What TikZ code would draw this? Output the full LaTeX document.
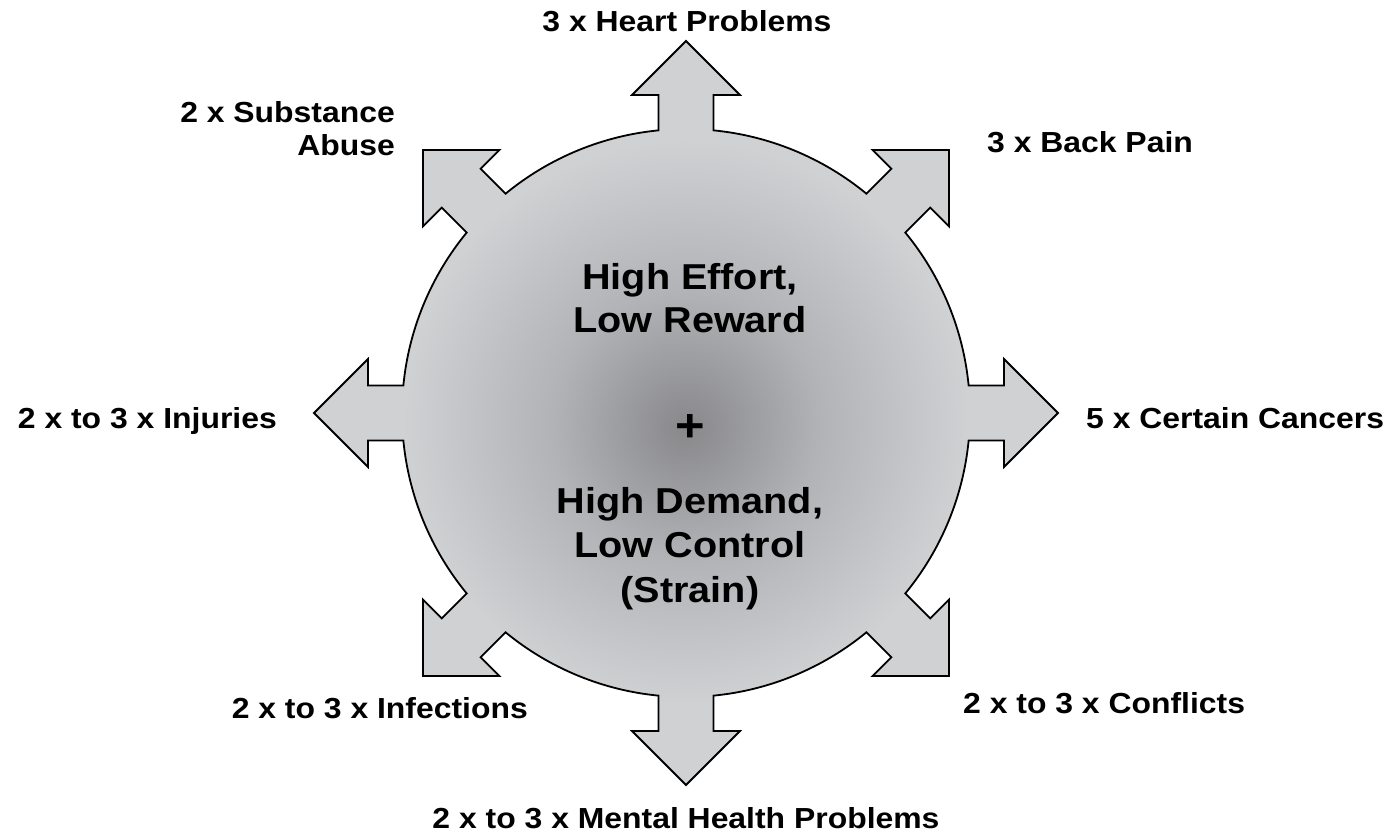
\documentclass[tikz,border=0pt]{standalone}
\usepackage{fontspec}
\newfontfamily\labfont{Liberation Sans}[FakeStretch=1.1]
\definecolor{cin}{RGB}{136,136,139}
\definecolor{cmid}{RGB}{178,179,182}
\definecolor{cout}{RGB}{208,209,211}
\pgfdeclareradialshading{disc}{\pgfpoint{0bp}{-1bp}}{color(0bp)=(cin); color(9bp)=(cmid); color(19bp)=(cout); color(50bp)=(cout)}
\tikzset{
  lab/.style={inner sep=0pt, font=\labfont\bfseries\fontsize{29}{35}\selectfont},
  mid/.style={inner sep=0pt, font=\labfont\bfseries\fontsize{36}{43}\selectfont},
  outline/.style={line width=1.8pt, line join=miter, draw=black, shading=disc}
}
\begin{document}
\begin{tikzpicture}[x=1pt,y=1pt]
\useasboundingbox (-686,-420) rectangle (711,413);
\shadedraw[outline] (-5.556:284pt)
  \foreach \a in {0,45,...,315} {
    -- ({\a-5.556}:284pt) -- ({\a-4.943}:319.19pt) -- ({\a-9.638}:322.55pt)
    -- (\a:372pt) -- ({\a+9.638}:322.55pt) -- ({\a+4.943}:319.19pt)
    -- ({\a+5.556}:284pt) arc[start angle={\a+5.556}, end angle={\a+39.444}, radius=284pt]
  } -- cycle;
% outer labels
\node[lab, anchor=base] (heart) at (1,381) {3 x Heart Problems};
\node[lab, anchor=base west] (back) at (301,260) {3 x Back Pain};
\node[lab, anchor=base west] (cancer) at (400,-15) {5 x Certain Cancers};
\node[lab, anchor=base east] (injur) at (-409,-15) {2 x to 3 x Injuries};
\node[lab, anchor=base east] (subst1) at (-291,290) {2 x Substance};
\node[lab, anchor=base east] (subst2) at (-291,257) {Abuse};
\node[lab, anchor=base east] (infect) at (-158,-305) {2 x to 3 x Infections};
\node[lab, anchor=base west] (confl) at (277,-300) {2 x to 3 x Conflicts};
\node[lab, anchor=base] (mental) at (0,-415) {2 x to 3 x Mental Health Problems};
% centre text
\node[mid, anchor=base] (eff1) at (4,124) {High Effort,};
\node[mid, anchor=base] (eff2) at (4,81) {Low Reward};
\node[inner sep=0pt, font=\labfont\bfseries\fontsize{46}{50}\selectfont] (plus) at (4,-15) {+};
\node[mid, anchor=base] (dem1) at (4,-100) {High Demand,};
\node[mid, anchor=base] (dem2) at (4,-144) {Low Control};
\node[mid, anchor=base] (dem3) at (4,-189) {(Strain)};
\end{tikzpicture}
\end{document}
